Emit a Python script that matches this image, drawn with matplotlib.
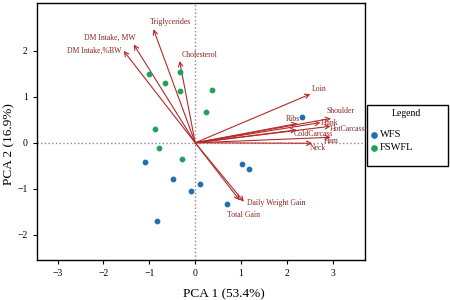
import matplotlib.pyplot as plt
from matplotlib.patches import Rectangle

plt.rcParams['font.family'] = ['Liberation Serif', 'DejaVu Serif']

# scores (PCA 1, PCA 2)
wfs_x = [-1.10, -0.49, -0.10, 0.10, -0.84, 1.02, 1.18, 0.70, 2.32]
wfs_y = [-0.41, -0.79, -1.04, -0.90, -1.71, -0.46, -0.58, -1.33, 0.56]
fswfl_x = [-1.00, -0.66, -0.34, -0.33, 0.37, 0.24, -0.87, -0.79, -0.28]
fswfl_y = [1.49, 1.30, 1.54, 1.12, 1.15, 0.67, 0.30, -0.12, -0.35]

# loadings
variables = ['DM Intake,%BW', 'DM Intake, MW', 'Triglycerides', 'Cholesterol',
             'Loin', 'Shoulder', 'Flank', 'Ribs', 'HotCarcass', 'ColdCarcass',
             'Ham', 'Neck', 'Daily Weight Gain', 'Total Gain']
load_x = [-1.56, -1.34, -0.91, -0.34, 2.51, 2.96, 2.73, 2.23, 2.95, 2.21,
          2.95, 2.55, 1.06, 0.97]
load_y = [2.00, 2.14, 2.47, 1.78, 1.06, 0.53, 0.44, 0.42, 0.36, 0.28,
          0.12, -0.01, -1.28, -1.25]

# label placement (offset pixels, alignment)
label_pos = {
    'DM Intake,%BW': (-2, 0, 'right'),
    'DM Intake, MW': (2, 7, 'right'),
    'Triglycerides': (-4, 7, 'left'),
    'Cholesterol': (2, 6, 'left'),
    'Loin': (1, 5, 'left'),
    'Shoulder': (-4, 7, 'left'),
    'Flank': (0, 0, 'left'),
    'Ribs': (-12, 5, 'left'),
    'HotCarcass': (-1, -3, 'left'),
    'ColdCarcass': (-3, -4, 'left'),
    'Ham': (-7, -4, 'left'),
    'Neck': (-2, -5, 'left'),
    'Daily Weight Gain': (3, -1, 'left'),
    'Total Gain': (-13, -15, 'left'),
}

blue = '#1f6fb2'
green = '#1fa25c'
arrow_col = '#b52a2a'
text_col = '#8b2525'

fig = plt.figure(figsize=(4.5, 3), dpi=100)
ax = fig.add_axes([0.082, 0.133, 0.729, 0.857])

ax.axhline(0, color='#888888', ls=':', lw=1, zorder=1)
ax.axvline(0, color='#888888', ls=':', lw=1, zorder=1)

ax.scatter(wfs_x, wfs_y, s=10, color=blue, zorder=3, label='WFS')
ax.scatter(fswfl_x, fswfl_y, s=10, color=green, zorder=3, label='FSWFL')

for name, lx, ly in zip(variables, load_x, load_y):
    ax.annotate('', xy=(lx, ly), xytext=(0, 0),
                arrowprops=dict(arrowstyle='->', color=arrow_col, lw=0.8,
                                shrinkA=0, shrinkB=0, mutation_scale=8),
                zorder=2)
    dx, dy, ha = label_pos[name]
    ax.annotate(name, xy=(lx, ly), xytext=(dx, dy), textcoords='offset pixels',
                ha=ha, va='center', fontsize=5.6, color=text_col, zorder=4)

ax.set_xlim(-3.45, 3.7)
ax.set_ylim(-2.55, 3.04)
ax.set_xticks([-3, -2, -1, 0, 1, 2, 3])
ax.set_yticks([-2, -1, 0, 1, 2])
ax.tick_params(labelsize=7, length=3, width=0.8)
for s in ax.spines.values():
    s.set_linewidth(1.0)

ax.set_xlabel('PCA 1 (53.4%)', fontsize=9.5)
ax.xaxis.set_label_coords(0.57, -0.11)
ax.set_ylabel('PCA 2 (16.9%)', fontsize=9.5)
ax.yaxis.set_label_coords(-0.065, 0.45)

# legend box outside the axes
fig.patches.append(Rectangle((0.815, 0.447), 0.181, 0.203, transform=fig.transFigure,
                             fill=False, edgecolor='black', lw=1))
fig.text(0.904, 0.622, 'Legend', ha='center', va='center', fontsize=7)
fig.legend(loc='upper left', bbox_to_anchor=(0.81, 0.58), frameon=False,
           fontsize=7.5, handletextpad=0.1, labelspacing=0.35,
           borderaxespad=0, handlelength=1.0, markerscale=1.2)

fig.savefig('out.png', dpi=100)
